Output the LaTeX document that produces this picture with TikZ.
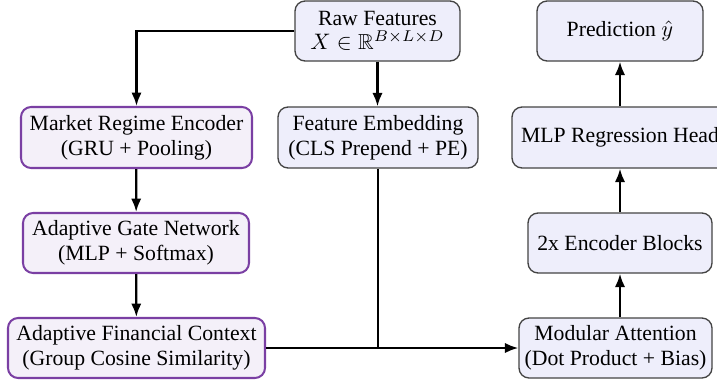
\documentclass[tikz,border=0pt]{standalone}
\usepackage{amssymb}
\usepackage{fontspec}
\setmainfont{Liberation Serif}
\usetikzlibrary{arrows.meta}
\definecolor{bfill}{HTML}{EEEEFB}
\definecolor{pfill}{HTML}{F4F0F9}
\definecolor{pborder}{HTML}{7A3FA3}
\definecolor{gborder}{HTML}{444444}
\tikzset{
  box/.style={draw=gborder, line width=0.6pt, fill=bfill, rounded corners=4.5pt, align=center, inner sep=0pt, font=\fontsize{9.7}{11}\selectfont},
  pbox/.style={box, draw=pborder, fill=pfill, line width=0.9pt},
  conn/.style={line width=1pt, -{Latex[length=6pt,width=4.6pt]}},
  plain/.style={line width=1pt}
}
\begin{document}
\begin{tikzpicture}[x=0.4464pt,y=-0.4464pt]
\useasboundingbox (0,0) rectangle (717,385);
\begin{scope}
\clip (0,0) rectangle (717,385);
\node[box, minimum width=165*0.4464pt, minimum height=60*0.4464pt] (raw) at (377.5,31) {Raw Features\\$X\in\mathbb{R}^{B\times L\times D}$};
\node[box, minimum width=166*0.4464pt, minimum height=60*0.4464pt] (pred) at (620,31) {Prediction $\hat{y}$};
\node[pbox, minimum width=231*0.4464pt, minimum height=61*0.4464pt] (mre) at (136.5,137.5) {Market Regime Encoder\\(GRU + Pooling)};
\node[box, minimum width=200*0.4464pt, minimum height=61*0.4464pt] (fe) at (378,137.5) {Feature Embedding\\(CLS Prepend + PE)};
\node[box, minimum width=216*0.4464pt, minimum height=61*0.4464pt] (mlp) at (620,137.5) {MLP Regression Head};
\node[pbox, minimum width=226*0.4464pt, minimum height=60*0.4464pt] (agn) at (136,243) {Adaptive Gate Network\\(MLP + Softmax)};
\node[box, minimum width=184*0.4464pt, minimum height=60*0.4464pt] (enc) at (620,243) {2x Encoder Blocks};
\node[pbox, minimum width=257*0.4464pt, minimum height=60*0.4464pt] (afc) at (136.5,348) {Adaptive Financial Context\\(Group Cosine Similarity)};
\node[box, minimum width=193*0.4464pt, minimum height=60*0.4464pt] (ma) at (615.5,348) {Modular Attention\\(Dot Product + Bias)};
\coordinate (join) at (fe.south |- afc.east);
\draw[conn] (raw.west) -| (mre.north);
\draw[conn] (raw.south) -- (raw.south |- fe.north);
\draw[conn] (mre) -- (agn);
\draw[conn] (agn) -- (afc);
\draw[plain] (fe.south) -- (join);
\draw[conn] (afc.east) -- (ma.west);
\draw[conn] (enc.south |- ma.north) -- (enc.south);
\draw[conn] (enc.north) -- (mlp.south);
\draw[conn] (mlp.north) -- (pred.south);
\end{scope}
\end{tikzpicture}
\end{document}
